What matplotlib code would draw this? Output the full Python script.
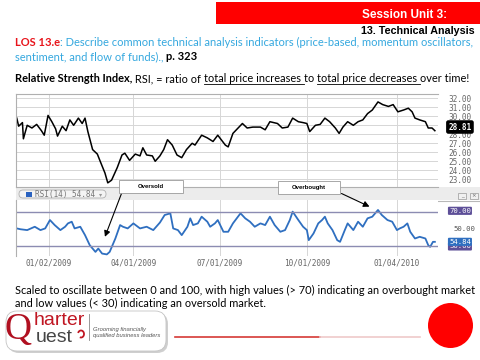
'''
   RSI slide: price chart + RSI(14) panel
'''
import numpy as np
import pandas as pd
import matplotlib
matplotlib.use('Agg')
import matplotlib.pyplot as plt
import matplotlib.transforms as mtransforms
from matplotlib.patches import Rectangle, FancyBboxPatch, Circle, Arc
from matplotlib.lines import Line2D

# price closes, x = days from 01/02/2009
price_day = [-34, -32, -28, -27, -23, -18, -13, -8, -5, -1, 3, 7, 9, 14, 18, 22, 26, 31, 35, 38,
             41, 46, 51, 54, 59, 62, 66, 72, 77, 80, 85, 91, 96, 99, 103, 109, 112, 117, 121, 125,
             130, 135, 140, 145, 151, 154, 161, 167, 173, 178, 186, 189, 194, 204, 209, 215, 223, 228, 233, 241,
             246, 252, 257, 263, 268, 272, 275, 281, 286, 291, 296, 302, 306, 310, 315, 321, 326, 331, 336, 341,
             347, 352, 358, 363, 368, 374, 379, 383, 386, 391, 397, 400, 404, 407]
price_val = [29.8, 28.9, 29.3, 27.5, 29.0, 28.7, 29.1, 28.4, 27.9, 30.1, 29.4, 28.6, 27.8, 28.9, 28.4, 29.6, 29.0, 29.8, 29.2, 29.8,
             28.3, 26.3, 25.8, 25.0, 23.7, 22.6, 22.9, 24.3, 25.7, 25.9, 25.1, 25.8, 25.6, 26.5, 25.7, 25.6, 25.0, 25.6, 26.3, 27.4,
             26.8, 25.7, 25.4, 26.3, 27.0, 26.8, 27.9, 27.6, 27.2, 27.9, 26.8, 26.6, 28.1, 29.2, 28.7, 28.8, 28.8, 28.5, 29.4, 29.2,
             28.7, 28.8, 29.8, 29.4, 29.3, 29.2, 28.3, 29.0, 29.1, 29.8, 29.4, 28.7, 28.1, 28.8, 29.4, 29.0, 29.4, 29.6, 30.3, 30.7,
             31.6, 31.3, 31.1, 31.3, 30.5, 30.7, 30.9, 30.5, 29.8, 29.6, 29.4, 28.7, 28.7, 28.4]

# RSI(14)
rsi_day = [-34, -30, -23, -19, -15, -9, -4, 1, 6, 12, 17, 20, 24, 27, 33, 38, 43, 49, 52, 56,
           61, 64, 70, 75, 78, 83, 89, 96, 103, 110, 117, 122, 128, 131, 136, 140, 146, 149, 152, 157,
           161, 167, 170, 175, 178, 184, 189, 194, 202, 207, 212, 217, 223, 228, 233, 238, 244, 249, 254, 257,
           263, 268, 272, 274, 279, 284, 288, 291, 294, 299, 304, 307, 312, 315, 321, 326, 331, 336, 341, 344,
           347, 351, 357, 362, 367, 370, 374, 378, 381, 386, 391, 397, 400, 402, 405, 407]
rsi_val = [51, 50, 49, 51, 53, 49, 51, 61, 55, 49, 53, 57, 59, 51, 53, 43, 31, 23, 27, 21,
           20, 23, 39, 55, 53, 51, 57, 51, 53, 49, 58, 67, 69, 51, 49, 43, 53, 63, 55, 57,
           65, 59, 53, 57, 61, 47, 47, 57, 69, 63, 59, 53, 57, 55, 65, 55, 47, 49, 61, 71,
           61, 53, 49, 37, 45, 57, 61, 65, 57, 49, 37, 35, 49, 57, 49, 59, 53, 63, 65, 69,
           73, 67, 61, 59, 49, 51, 53, 57, 47, 39, 41, 39, 31, 29, 35, 35]

date_labels = ['01/02/2009', '04/01/2009', '07/01/2009', '10/01/2009', '01/04/2010']
price_ticks = [23, 24, 25, 26, 27, 28, 29, 30, 31, 32]
last_price = 28.81
rsi_levels = [30, 70]
rsi_text = '54.84'

W, H = 480, 360
fig = plt.figure(figsize=(4.8, 3.6), dpi=100, facecolor='white')
# pixel coords, y from top
pix = mtransforms.Affine2D().scale(1 / W, -1 / H).translate(0, 1) + fig.transFigure
renderer = fig.canvas.get_renderer()

SLIDE_FONT = ['Lato', 'DejaVu Sans']
MONO = 'DejaVu Sans Mono'
GRAY = '#666666'


def axes_px(l, t, r, b):
    return fig.add_axes([l / W, 1 - b / H, (r - l) / W, (b - t) / H])


def text_width(s, **kw):
    t = fig.text(0, 0, s + '|', **kw)
    r = fig.text(0, 0, '|', **kw)
    w = t.get_window_extent(renderer).width - r.get_window_extent(renderer).width
    t.remove()
    r.remove()
    return w


def runs_width(parts, size):
    return sum(text_width(s, fontsize=size, family=SLIDE_FONT,
                          fontweight='bold' if b else 'normal') for s, c, b, u in parts)


def write_runs(x, y, parts, size):
    for s, color, bold, under in parts:
        kw = dict(fontsize=size, family=SLIDE_FONT, fontweight='bold' if bold else 'normal', color=color)
        fig.text(x, y, s, transform=pix, va='baseline', **kw)
        w = text_width(s, **kw)
        if under:
            fig.add_artist(Line2D([x, x + w], [y + 1.6, y + 1.6], transform=pix, color=color, lw=0.6))
        x += w


def fit_size(parts, target):
    return 10 * target / runs_width(parts, 10)


# ---------- header ----------
fig.add_artist(Rectangle((216, 2), 264, 22, transform=pix, fc='#ff0000', ec='none'))
hdr = dict(family=['Liberation Sans'], fontweight='bold')
s1 = 10 * 85 / text_width('Session Unit 3:', fontsize=10, **hdr)
fig.text(447, 15.5, 'Session Unit 3:', transform=pix, ha='right', va='center', color='white', fontsize=s1, **hdr)
s2 = 10 * 113 / text_width('13. Technical Analysis', fontsize=10, **hdr)
fig.text(475, 30.7, '13. Technical Analysis', transform=pix, ha='right', va='center', color='black', fontsize=s2, **hdr)

BLUE_T = '#35a8df'
RED_T = '#e8141b'
los1 = [('LOS 13.e', RED_T, True, False),
        (': Describe common technical analysis indicators (price-based, momentum oscillators,', BLUE_T, False, False)]
los2 = [('sentiment, and flow of funds)., ', BLUE_T, False, False), ('p. 323', 'black', True, False)]
rsi_line = [('Relative Strength Index,', 'black', True, False), (' RSI, = ratio of ', 'black', False, False),
            ('total price increases ', 'black', False, True), ('to ', 'black', False, False),
            ('total price decreases ', 'black', False, True), ('over time!', 'black', False, False)]
bot1 = [('Scaled to oscillate between 0 and 100, with high values (> 70) indicating an overbought market', 'black', False, False)]
bot2 = [('and low values (< 30) indicating an oversold market.', 'black', False, False)]

fs = fit_size(los1, 455)
write_runs(15, 46, los1, fs)
write_runs(15, 60, los2, fs)
write_runs(15, 82.5, rsi_line, fit_size(rsi_line, 455))
fs_b = fit_size(bot1, 458)
write_runs(15, 293.5, bot1, fs_b)
write_runs(15, 307, bot2, fs_b)

# ---------- price panel ----------
ax1 = axes_px(16, 94, 438, 187)
ax1.plot(price_day, price_val, color='black', lw=1.1)
xlim = (-34.8, 410.3)
tick_pos = (pd.to_datetime(date_labels, format='%m/%d/%Y') - pd.Timestamp('2009-01-02')).days
ax1.set_xlim(*xlim)
ax1.set_ylim(22.14, 32.48)
ax1.set_xticks(tick_pos)
ax1.set_yticks(price_ticks)
ax1.set_yticklabels(['' if v == 29 else f'{v:.2f}' for v in price_ticks])
ax1.yaxis.tick_right()
ax1.tick_params(axis='y', length=0, pad=7.5, labelsize=5.6, labelcolor=GRAY)
ax1.tick_params(axis='x', length=0, labelbottom=False)
for lbl in ax1.get_yticklabels():
    lbl.set_family(MONO)
ax1.grid(True, color='#d6d6d6', lw=0.7)
ax1.spines['right'].set_visible(False)
for sp in ['left', 'top', 'bottom']:
    ax1.spines[sp].set_color('#b0b0b0')
    ax1.spines[sp].set_linewidth(0.8)
blend1 = mtransforms.blended_transform_factory(ax1.transAxes, ax1.transData)
ax1.text(1.052, last_price, f'{last_price:.2f}', transform=blend1, ha='center', va='center', color='white',
         fontsize=5.6, family=MONO, fontweight='bold', clip_on=False,
         bbox=dict(boxstyle='round,pad=0.2', fc='black', ec='black'))

# ---------- strip between panels ----------
fig.add_artist(Rectangle((16, 187), 464, 13, transform=pix, fc='#ececec', ec='none', zorder=-1))
fig.add_artist(Line2D([16, 480], [200.5, 200.5], transform=pix, color='#b8b8b8', lw=0.8, zorder=-0.5))
fig.add_artist(FancyBboxPatch((19, 190), 87, 8, boxstyle='round,pad=0,rounding_size=4', transform=pix,
                              fc='#f4f4f4', ec='#b0b0b0', lw=0.6))
fig.add_artist(Rectangle((26, 191.5), 6, 5, transform=pix, fc='#2a62c0', ec='none'))
fig.text(35, 194.3, f'RSI(14) {rsi_text}', transform=pix, va='center', fontsize=5.6, family=MONO, color='#777777')
fig.text(101, 194.3, '\u25be', transform=pix, va='center', ha='center', fontsize=4.5, color='#999999')
for x0, s in [(458, '_'), (470, '\u00d7')]:
    fig.add_artist(Rectangle((x0, 193), 8, 6, transform=pix, fc='#f0f0f0', ec='#999999', lw=0.5))
    fig.text(x0 + 4, 196, s, transform=pix, ha='center', va='center', fontsize=4, color='#666666')

# ---------- RSI panel ----------
ax2 = axes_px(16, 200, 438, 256)
ax2.plot(rsi_day, rsi_val, color='#2f6fc0', lw=1.3)
for lv in rsi_levels:
    ax2.axhline(lv, color='#8c8cb2', lw=1.0)
ax2.set_xlim(*xlim)
ax2.set_ylim(18.1, 84.9)
ax2.set_xticks(tick_pos)
ax2.set_xticklabels(date_labels)
ax2.set_yticks([])
ax2.tick_params(axis='x', length=0, pad=2, labelsize=5.6, labelcolor=GRAY)
for lbl in ax2.get_xticklabels():
    lbl.set_family(MONO)
ax2.grid(True, axis='x', color='#d6d6d6', lw=0.7)
ax2.spines['right'].set_visible(False)
ax2.spines['bottom'].set_visible(False)
ax2.spines['top'].set_visible(False)
ax2.spines['left'].set_color('#b0b0b0')
ax2.spines['left'].set_linewidth(0.8)
blend2 = mtransforms.blended_transform_factory(ax2.transAxes, ax2.transData)
box_kw = dict(transform=blend2, ha='center', va='center', fontsize=5.2, family=MONO, clip_on=False)
ax2.text(1.052, 72, '70.00', color='white', bbox=dict(boxstyle='round,pad=0.15', fc='#5d4f98', ec='none'), **box_kw)
ax2.text(1.062, 50, '50.00', color='#555555', **box_kw)
ax2.text(1.052, 29.5, '30.00', color='white', bbox=dict(boxstyle='round,pad=0.15', fc='#5d4f98', ec='none'), **box_kw)
ax2.text(1.052, rsi_val[-1], rsi_text, color='white', bbox=dict(boxstyle='round,pad=0.15', fc='#2f6fc0', ec='none'), **box_kw)

# callouts
arrow = dict(arrowstyle='-|>,head_length=0.35,head_width=0.18', color='black', lw=0.8, shrinkA=0, shrinkB=0)
ax2.annotate('', xy=(59, 41), xycoords='data', xytext=(121.5, 193.5), textcoords=pix,
             arrowprops=arrow, annotation_clip=False)
ax2.annotate('', xy=(338, 77), xycoords='data', xytext=(341.5, 193.5), textcoords=pix,
             arrowprops=arrow, annotation_clip=False)
for (l, t, w, h), s in [((119, 180, 64, 13), 'Oversold'), ((278, 181, 62, 13), 'Overbought')]:
    fig.add_artist(Rectangle((l, t), w, h, transform=pix, fc='white', ec='#9a9a9a', lw=0.6, zorder=4))
    fig.text(l + w / 2, t + h / 2, s, transform=pix, ha='center', va='center', fontsize=4.3,
             fontweight='bold', family=['Liberation Sans'], zorder=5)

# ---------- footer / logo ----------
fig.add_artist(FancyBboxPatch((8, 313), 160, 40, boxstyle='round,pad=0,rounding_size=11', transform=pix,
                              fc='#cfcfcf', ec='none'))
fig.add_artist(FancyBboxPatch((6, 311), 160, 40, boxstyle='round,pad=0,rounding_size=11', transform=pix,
                              fc='white', ec='#c4c4c4', lw=0.6))
fig.text(5, 339, 'Q', transform=pix, fontsize=27, color='#b01020', family=['Liberation Serif'], va='baseline')
# wordmark: "harter" (red) sitting on "uest" (grey)
fig.text(34, 328.8, 'harter', transform=pix, fontsize=14, color='#c01622', family=['Liberation Sans'], va='bottom')
fig.text(36, 329.2, 'uest', transform=pix, fontsize=14, color='#454545', family=['Liberation Sans'], va='top')
# small red swirl mark
fig.add_artist(Arc((81, 334), 6, 7, theta1=200, theta2=470, transform=pix, color='#c01622', lw=1.3))
fig.add_artist(Line2D([89, 89], [314, 340], transform=pix, color='#888888', lw=0.6))
fig.text(93, 337, 'Grooming financially\nqualified business leaders', transform=pix, fontsize=4.2,
         style='italic', color='#555555', family=['Liberation Sans'], va='baseline', linespacing=1.3)
fig.add_artist(Line2D([175, 320], [336.7, 336.7], transform=pix, color='#d63a36', lw=1.2))
fig.add_artist(Line2D([320, 420], [336.7, 336.7], transform=pix, color='#efc9c9', lw=1.2))
fig.add_artist(Circle((450.5, 325.5), 22.5, transform=pix, fc='#ff0000', ec='none'))

fig.savefig('out.png', dpi=100, facecolor='white')
